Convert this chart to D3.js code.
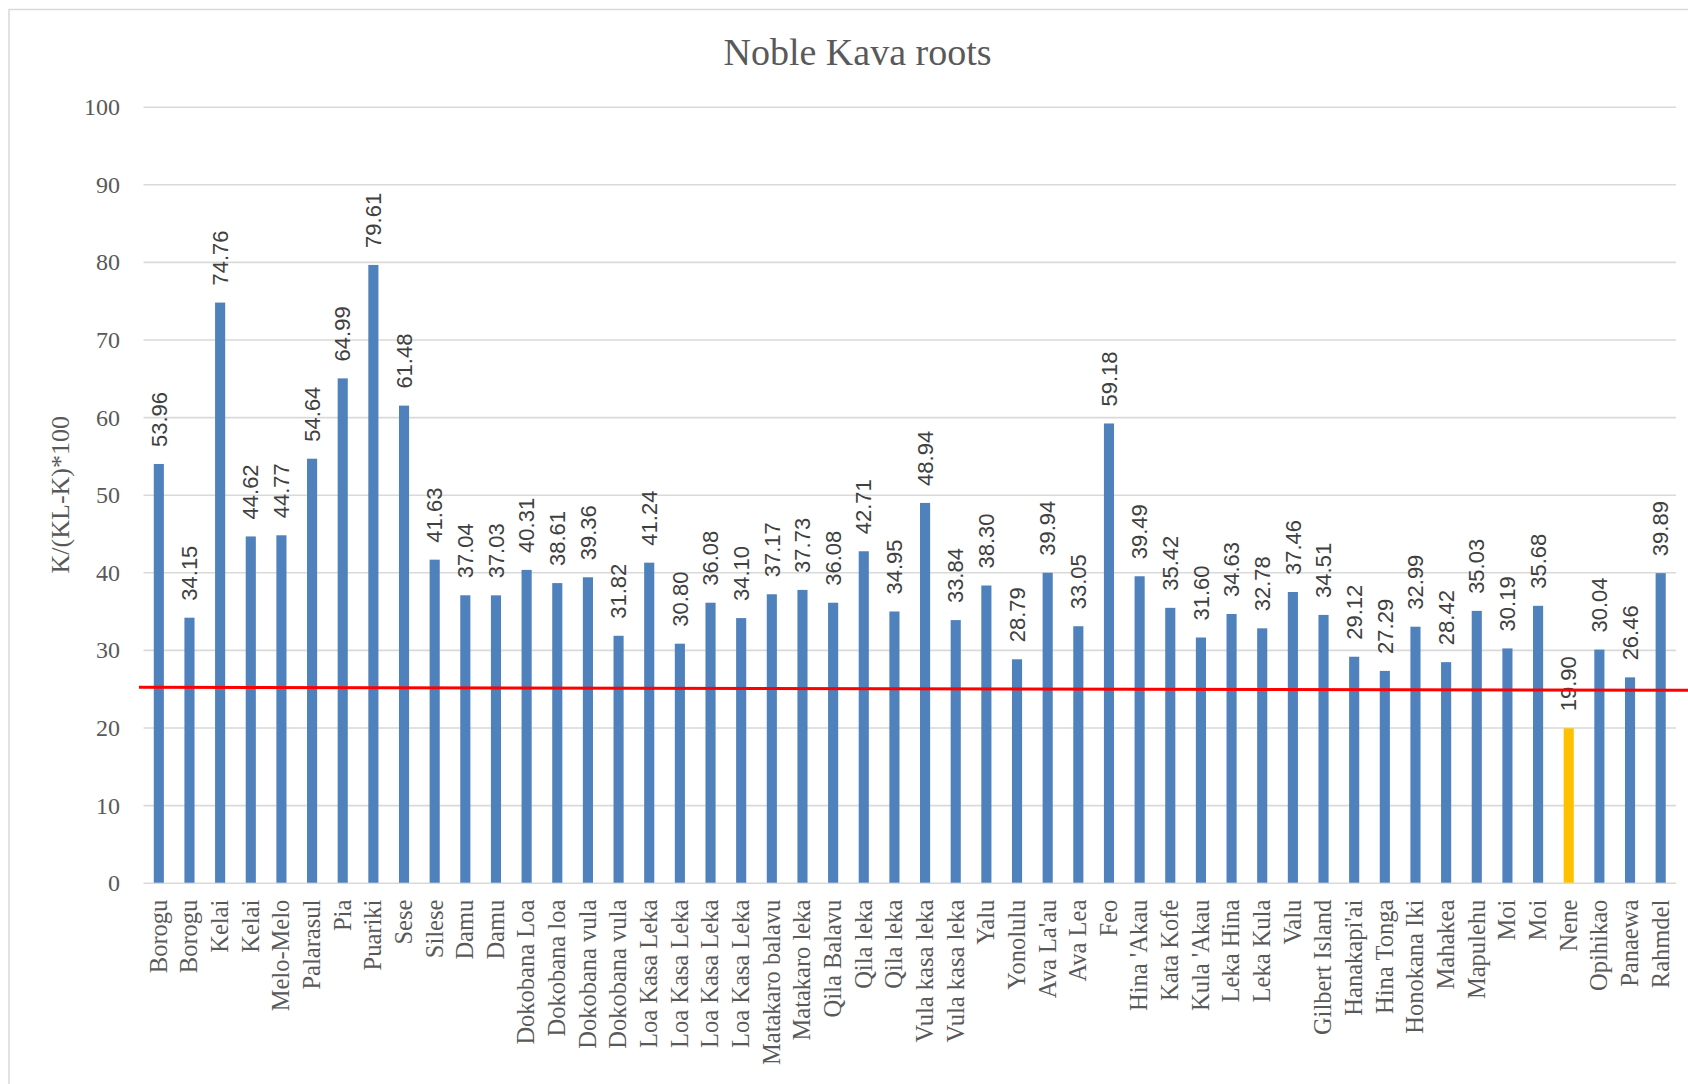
<!DOCTYPE html>
<html>
<head>
<meta charset="utf-8">
<script src="https://cdn.jsdelivr.net/npm/d3@7"></script>
<style>
  html, body { margin: 0; padding: 0; background: #fff; }
  svg { display: block; }
</style>
</head>
<body>
<script>
// Kava cultivars, in plotting order (names repeat for separate samples)
const cultivars = [
  "Borogu", "Borogu", "Kelai", "Kelai", "Melo-Melo", "Palarasul", "Pia", "Puariki",
  "Sese", "Silese", "Damu", "Damu", "Dokobana Loa", "Dokobana loa", "Dokobana vula",
  "Dokobana vula", "Loa Kasa Leka", "Loa Kasa Leka", "Loa Kasa Leka", "Loa Kasa Leka",
  "Matakaro balavu", "Matakaro leka", "Qila Balavu", "Qila leka", "Qila leka",
  "Vula kasa leka", "Vula kasa leka", "Yalu", "Yonolulu", "Ava La'au", "Ava Lea", "Feo",
  "Hina 'Akau", "Kata Kofe", "Kula 'Akau", "Leka Hina", "Leka Kula", "Valu",
  "Gilbert Island", "Hanakapi'ai", "Hina Tonga", "Honokana Iki", "Mahakea", "Mapulehu",
  "Moi", "Moi", "Nene", "Opihikao", "Panaewa", "Rahmdel"
];

// K/(KL-K)*100 for each sample
const ratios = [
  53.96, 34.15, 74.76, 44.62, 44.77, 54.64, 64.99, 79.61,
  61.48, 41.63, 37.04, 37.03, 40.31, 38.61, 39.36,
  31.82, 41.24, 30.80, 36.08, 34.10,
  37.17, 37.73, 36.08, 42.71, 34.95,
  48.94, 33.84, 38.30, 28.79, 39.94, 33.05, 59.18,
  39.49, 35.42, 31.60, 34.63, 32.78, 37.46,
  34.51, 29.12, 27.29, 32.99, 28.42, 35.03,
  30.19, 35.68, 19.90, 30.04, 26.46, 39.89
];

// Samples drawn in the highlight colour
const highlighted = ["Nene"];

// Y axis ticks
const yTicks = [0, 10, 20, 30, 40, 50, 60, 70, 80, 90, 100];

// Reference threshold line (value at its left and right ends)
const thresholdEnds = [25.2, 24.8];

const W = 1688, H = 1084;
const plot = { left: 143.5, right: 1676, top: 106.7, bottom: 882.7 };

const svg = d3.select("body").append("svg")
  .attr("width", W).attr("height", H);

// chart frame (continues past the page edges)
svg.append("rect")
  .attr("x", 9).attr("y", 9.5)
  .attr("width", W + 20).attr("height", H + 20)
  .attr("fill", "#fff").attr("stroke", "#d9d9d9").attr("stroke-width", 1.5);

const idx = d3.range(cultivars.length);
const x = d3.scaleBand().domain(idx).range([plot.left, plot.right]).paddingInner(0.67).paddingOuter(0.335);
const y = d3.scaleLinear().domain([0, 100]).range([plot.bottom, plot.top]);

// gridlines
const yAxis = d3.axisLeft(y).tickValues(yTicks).tickSize(-(plot.right - plot.left)).tickFormat(d3.format("d"));
const gy = svg.append("g").attr("transform", `translate(${plot.left},0)`).call(yAxis);
gy.select(".domain").remove();
gy.selectAll(".tick line").attr("stroke", "#d9d9d9").attr("stroke-width", 1.6);
gy.selectAll(".tick text")
  .attr("x", -23.5).attr("dy", "0.33em")
  .attr("fill", "#595959")
  .style("font-family", "'Liberation Serif', serif").style("font-size", "24px");

// bars
svg.append("g").selectAll("rect")
  .data(idx)
  .join("rect")
  .attr("x", i => x(i))
  .attr("y", i => y(ratios[i]))
  .attr("width", x.bandwidth())
  .attr("height", i => y(0) - y(ratios[i]))
  .attr("fill", i => highlighted.includes(cultivars[i]) ? "#ffc000" : "#4f81bd");

// value labels above bars
svg.append("g").selectAll("text")
  .data(idx)
  .join("text")
  .attr("transform", i => `translate(${x(i) + x.bandwidth() / 2},${y(ratios[i]) - 17}) rotate(-90)`)
  .attr("dy", "0.35em")
  .attr("text-anchor", "start")
  .attr("fill", "#404040")
  .style("font-family", "'Liberation Sans', Arial, sans-serif").style("font-size", "22px")
  .text(i => d3.format(".2f")(ratios[i]));

// category labels
const xAxis = d3.axisBottom(x).tickSize(0).tickFormat(i => cultivars[i]);
const gx = svg.append("g").attr("transform", `translate(0,${plot.bottom})`).call(xAxis);
gx.select(".domain").remove();
gx.selectAll(".tick text")
  .attr("transform", "rotate(-90)")
  .attr("x", -17).attr("y", 0).attr("dy", "0.32em")
  .attr("text-anchor", "end")
  .attr("fill", "#595959")
  .style("font-family", "'Liberation Serif', serif").style("font-size", "24.5px");

// threshold line
svg.append("line")
  .attr("x1", plot.left - 4.5).attr("x2", W)
  .attr("y1", y(thresholdEnds[0])).attr("y2", y(thresholdEnds[1]))
  .attr("stroke", "#ff0000").attr("stroke-width", 3);

// title
svg.append("text")
  .attr("x", 857.5).attr("y", 65)
  .attr("text-anchor", "middle")
  .attr("fill", "#595959")
  .style("font-family", "'Liberation Serif', serif").style("font-size", "38px")
  .text("Noble Kava roots");

// y axis title
svg.append("text")
  .attr("transform", `translate(60,${(plot.top + plot.bottom) / 2}) rotate(-90)`)
  .attr("text-anchor", "middle").attr("dy", "0.35em")
  .attr("fill", "#595959")
  .style("font-family", "'Liberation Serif', serif").style("font-size", "26px")
  .text("K/(KL-K)*100");
</script>
</body>
</html>
